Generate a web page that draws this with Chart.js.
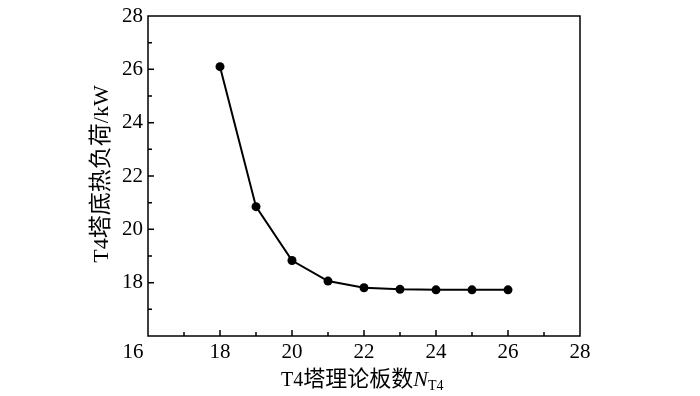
<!DOCTYPE html>
<html><head><meta charset="utf-8">
<script src="https://cdn.jsdelivr.net/npm/chart.js@4/dist/chart.umd.min.js"></script>
<style>html,body{margin:0;padding:0;background:#fff}#wrap{width:700px;height:396px}</style>
</head><body><div id="wrap"><canvas id="c" width="700" height="396"></canvas></div>
<script>
const plates = [18, 19, 20, 21, 22, 23, 24, 25, 26];
const heatDuty = [26.1, 20.85, 18.83, 18.06, 17.81, 17.75, 17.73, 17.73, 17.73];
const xTickLabels = [16, 18, 20, 22, 24, 26, 28];
const yTickLabels = [18, 20, 22, 24, 26, 28];
const xTitleParts = ['T4', '塔理论板数', 'N', 'T4'];
const yTitleParts = ['T4', '塔底热负荷', '/kW'];

const SERIF = '"Liberation Serif", "Noto Sans CJK SC", serif';

function drawRuns(ctx, runs, x, y) {
  runs.forEach(r => {
    ctx.font = r.font;
    ctx.fillText(r.text, x, y + (r.dy || 0));
    x += ctx.measureText(r.text).width;
  });
}
function runsWidth(ctx, runs) {
  let w = 0;
  runs.forEach(r => { ctx.font = r.font; w += ctx.measureText(r.text).width; });
  return w;
}

const framePlugin = {
  id: 'frame',
  afterDraw(chart) {
    const ctx = chart.ctx, xs = chart.scales.x, ys = chart.scales.y, a = chart.chartArea;
    ctx.save();
    ctx.strokeStyle = '#000';
    ctx.lineWidth = 1.5;
    ctx.strokeRect(a.left, a.top, a.right - a.left, a.bottom - a.top);
    ctx.beginPath();
    for (let v = xs.min + 1; v < xs.max; v++) {
      const len = v % 2 === 0 ? 6 : 4;
      const px = xs.getPixelForValue(v);
      ctx.moveTo(px, a.bottom); ctx.lineTo(px, a.bottom - len);
    }
    for (let v = ys.min + 1; v < ys.max; v++) {
      const len = v % 2 === 0 ? 6 : 4;
      const py = ys.getPixelForValue(v);
      ctx.moveTo(a.left, py); ctx.lineTo(a.left + len, py);
    }
    ctx.stroke();

    ctx.fillStyle = '#000';
    ctx.font = '21px ' + SERIF;
    ctx.textAlign = 'center';
    ctx.textBaseline = 'middle';
    xTickLabels.forEach(v => {
      let px = xs.getPixelForValue(v);
      if (v === xs.min) px -= 15;
      ctx.fillText(String(v), px, a.bottom + 16);
    });
    ctx.textAlign = 'right';
    yTickLabels.forEach(v => {
      ctx.fillText(String(v), a.left - 5, ys.getPixelForValue(v));
    });

    // x title
    ctx.textAlign = 'left';
    ctx.textBaseline = 'alphabetic';
    drawRuns(ctx, [
      { text: xTitleParts[0], font: '20px ' + SERIF },
      { text: xTitleParts[1], font: '22px ' + SERIF },
      { text: xTitleParts[2], font: 'italic 22px ' + SERIF },
      { text: xTitleParts[3], font: '14px ' + SERIF, dy: 4 }
    ], 281, 386);

    // y title
    const yRuns = [
      { text: yTitleParts[0], font: '22px ' + SERIF },
      { text: yTitleParts[1], font: '23px ' + SERIF },
      { text: yTitleParts[2], font: '22px ' + SERIF }
    ];
    ctx.translate(102, 174);
    ctx.rotate(-Math.PI / 2);
    ctx.textBaseline = 'middle';
    const w = runsWidth(ctx, yRuns);
    drawRuns(ctx, yRuns, -w / 2, 0);
    ctx.restore();
  }
};

new Chart(document.getElementById('c'), {
  type: 'line',
  data: {
    datasets: [{
      data: plates.map((p, i) => ({ x: p, y: heatDuty[i] })),
      borderColor: '#000',
      backgroundColor: '#000',
      borderWidth: 2,
      pointRadius: 4.5,
      pointBackgroundColor: '#000',
      pointBorderColor: '#000',
      pointBorderWidth: 0,
      tension: 0,
      clip: false
    }]
  },
  options: {
    responsive: false,
    animation: false,
    devicePixelRatio: 1,
    layout: { padding: { left: 0, top: 16, right: 120, bottom: 0 } },
    plugins: { legend: { display: false }, tooltip: { enabled: false } },
    scales: {
      x: {
        type: 'linear', min: 16, max: 28,
        ticks: { display: false, stepSize: 2 },
        grid: { display: false, drawTicks: false },
        border: { display: false },
        afterFit(s) { s.height = 60; }
      },
      y: {
        type: 'linear', min: 16, max: 28,
        ticks: { display: false, stepSize: 2 },
        grid: { display: false, drawTicks: false },
        border: { display: false },
        afterFit(s) { s.width = 148; }
      }
    }
  },
  plugins: [framePlugin]
});
</script>
</body></html>
